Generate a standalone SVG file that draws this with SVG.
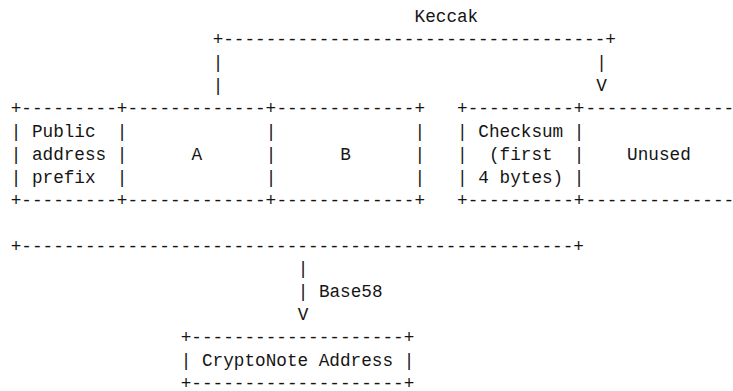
<svg xmlns="http://www.w3.org/2000/svg" width="733" height="391" viewBox="0 0 733 391" xml:space="preserve">
<style>
text{font-family:"Liberation Mono","DejaVu Sans Mono",monospace;font-size:17.71px;fill:#151515;white-space:pre}
</style>
<rect width="733" height="391" fill="#ffffff"/>
<g id="connectors">
  <g id="keccak">
    <text x="414.56" y="22">Keccak</text>
    <text x="212.63" y="44.95">+------------------------------------+</text>
    <text x="212.63" y="67.9">|</text>
    <text x="596.24" y="67.9">|</text>
    <text x="212.63" y="90.85">|</text>
    <text x="596.24" y="90.85">V</text>
  </g>
  <g id="base58">
    <text x="10.7" y="251.5">+----------------------------------------------------+</text>
    <text x="297.66" y="274.45">|</text>
    <text x="297.66" y="297.4">| Base58</text>
    <text x="297.66" y="320.35">V</text>
  </g>
</g>
<g id="prefix">
  <text x="10.7" y="113.8">+---------+</text>
  <text x="10.7" y="136.75">| Public  |</text>
  <text x="10.7" y="159.7">| address |</text>
  <text x="10.7" y="182.65">| prefix  |</text>
  <text x="10.7" y="205.6">+---------+</text>
</g>
<g id="a">
  <text x="127.61" y="113.8">-------------+</text>
  <text x="265.77" y="136.75">|</text>
  <text x="191.38" y="159.7">A</text>
  <text x="265.77" y="159.7">|</text>
  <text x="265.77" y="182.65">|</text>
  <text x="127.61" y="205.6">-------------+</text>
</g>
<g id="b">
  <text x="276.4" y="113.8">-------------+</text>
  <text x="414.56" y="136.75">|</text>
  <text x="340.17" y="159.7">B</text>
  <text x="414.56" y="159.7">|</text>
  <text x="414.56" y="182.65">|</text>
  <text x="276.4" y="205.6">-------------+</text>
</g>
<g id="checksum">
  <text x="457.08" y="113.8">+----------+</text>
  <text x="457.08" y="136.75">| Checksum |</text>
  <text x="457.08" y="159.7">|  (first  |</text>
  <text x="457.08" y="182.65">| 4 bytes) |</text>
  <text x="457.08" y="205.6">+----------+</text>
</g>
<g id="unused">
  <text x="585.61" y="113.8">--------------</text>
  <text x="627.12" y="159.7">Unused</text>
  <text x="585.61" y="205.6">--------------</text>
</g>
<g id="cryptonote-address">
  <text x="180.75" y="343.3">+--------------------+</text>
  <text x="180.75" y="366.25">| CryptoNote Address |</text>
  <text x="180.75" y="389.2">+--------------------+</text>
</g>
</svg>
